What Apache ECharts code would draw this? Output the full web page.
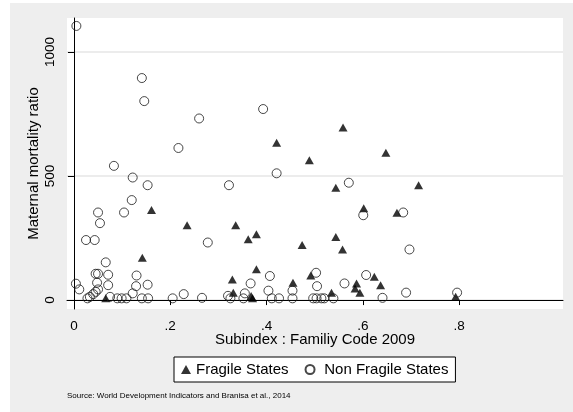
<!DOCTYPE html>
<html>
<head>
<meta charset="utf-8">
<script src="https://cdn.jsdelivr.net/npm/echarts@6/dist/echarts.min.js"></script>
<style>
  body { margin: 0; background: #fff; }
  #chart { position: absolute; left: 10px; top: 3px; width: 563px; height: 409px; background: #eeeeee; }
</style>
</head>
<body>
<div id="chart"></div>
<script>
// Fragile States (triangles)
var fragileX = [0.066, 0.142, 0.161, 0.235, 0.336, 0.362, 0.379, 0.474, 0.379, 0.329, 0.331, 0.368, 0.371, 0.421, 0.489, 0.492,
    0.455, 0.559, 0.648, 0.544, 0.716, 0.602, 0.671, 0.544, 0.558, 0.624, 0.637, 0.587, 0.584, 0.594, 0.535, 0.793]
var fragileY = [7, 171, 363, 302, 302, 245, 265, 222, 124, 83, 30, 16, 7, 634, 564, 99,
    70, 696, 594, 453, 463, 370, 352, 254, 204, 94, 60, 67, 47, 30, 30, 13]

// Non Fragile States (hollow circles)
var nonFragileX = [0.005, 0.141, 0.146, 0.26, 0.393, 0.217, 0.083, 0.122, 0.153, 0.322, 0.421, 0.571, 0.12, 0.05, 0.104, 0.054,
    0.025, 0.043, 0.278, 0.601, 0.684, 0.697, 0.066,
    0.004, 0.011, 0.045, 0.050, 0.071, 0.130, 0.048, 0.071, 0.129, 0.153, 0.122, 0.050, 0.045, 0.040, 0.033, 0.028,
    0.075, 0.090, 0.099, 0.109, 0.141, 0.154,
    0.205, 0.228, 0.266, 0.32, 0.325, 0.352, 0.355, 0.367, 0.404, 0.407, 0.411, 0.426, 0.454, 0.454,
    0.503, 0.505, 0.497, 0.504, 0.514, 0.52, 0.539, 0.562, 0.607, 0.641, 0.69, 0.796]
var nonFragileY = [1105, 895, 802, 732, 770, 613, 541, 494, 463, 463, 511, 473, 403, 353, 353, 310,
    242, 242, 232, 342, 353, 204, 152,
    66, 43, 106, 106, 102, 99, 70, 60, 56, 62, 27, 43, 33, 24, 13, 7,
    13, 7, 7, 7, 7, 7,
    7, 24, 9, 17, 7, 7, 27, 67, 38, 97, 7, 7, 38, 7,
    110, 56, 7, 7, 7, 7, 7, 67, 101, 9, 30, 30]

var xTicks = [0, 0.2, 0.4, 0.6, 0.8]
var yTicks = [0, 500, 1000]

function toPoints(xs, ys) {
    var pts = []
    for (var i = 0; i < xs.length; i++) {
        pts.push([xs[i], ys[i]])
    }
    return pts
}

var font = 'Liberation Sans, Arial, sans-serif'

var option = {
    animation: false,
    textStyle: { fontFamily: font },
    grid: {
        left: 57,
        top: 15,
        right: 10,
        bottom: 103,
        show: true,
        backgroundColor: '#fff',
        borderWidth: 0
    },
    legend: {
        data: ['Fragile States', 'Non Fragile States'],
        left: 164,
        top: 354,
        itemWidth: 10,
        itemHeight: 9,
        itemGap: 16,
        padding: [5, 7, 5, 7],
        borderColor: '#000',
        borderWidth: 1,
        borderRadius: 0,
        backgroundColor: '#fff',
        selectedMode: false,
        formatter: function (name) {
            return name == 'Non Fragile States' ? ' ' + name : name
        },
        textStyle: { fontSize: 15, color: '#000', fontFamily: font }
    },
    xAxis: {
        type: 'value',
        min: -0.0145,
        max: 1.016,
        name: 'Subindex : Familiy Code 2009',
        nameLocation: 'middle',
        nameGap: 23,
        nameMoveOverlap: false,
        nameTextStyle: { fontSize: 15, color: '#000', fontFamily: font },
        axisLine: { show: true, lineStyle: { color: '#000', width: 1 } },
        axisTick: { show: true, length: 5, customValues: xTicks, lineStyle: { color: '#000' } },
        axisLabel: {
            customValues: xTicks,
            margin: 10,
            fontSize: 13.5,
            color: '#000',
            formatter: function (v) {
                return v == 0 ? '0' : String(v).replace('0.', '.')
            }
        },
        splitLine: { show: false }
    },
    yAxis: {
        type: 'value',
        min: -36,
        max: 1137,
        name: 'Maternal mortality ratio',
        nameLocation: 'middle',
        nameGap: 26,
        nameMoveOverlap: false,
        nameTextStyle: { fontSize: 15, color: '#000', fontFamily: font },
        axisLine: { show: true, lineStyle: { color: '#000', width: 1 } },
        axisTick: { show: true, length: 6, customValues: yTicks, lineStyle: { color: '#000' } },
        axisLabel: {
            customValues: yTicks,
            rotate: 90,
            margin: 10,
            fontSize: 13.5,
            color: '#000',
            formatter: function (v) {
                return String(v)
            }
        },
        splitLine: { show: true, lineStyle: { color: '#e6e6e6', width: 1.5 } }
    },
    graphic: [{
        type: 'text',
        left: 57,
        top: 389,
        style: {
            text: 'Source: World Development Indicators and Branisa et al., 2014',
            fontSize: 8,
            fill: '#000',
            fontFamily: font
        }
    }],
    series: [{
        name: 'Fragile States',
        type: 'scatter',
        symbol: 'triangle',
        symbolSize: [9, 8],
        itemStyle: { color: '#000' },
        data: toPoints(fragileX, fragileY)
    }, {
        name: 'Non Fragile States',
        type: 'scatter',
        symbol: 'circle',
        symbolSize: 9,
        itemStyle: { color: 'rgba(255,255,255,0)', borderColor: '#1a1a1a', borderWidth: 1 },
        data: toPoints(nonFragileX, nonFragileY)
    }]
}

var myChart = echarts.init(document.getElementById('chart'))
myChart.setOption(option)
</script>
</body>
</html>
